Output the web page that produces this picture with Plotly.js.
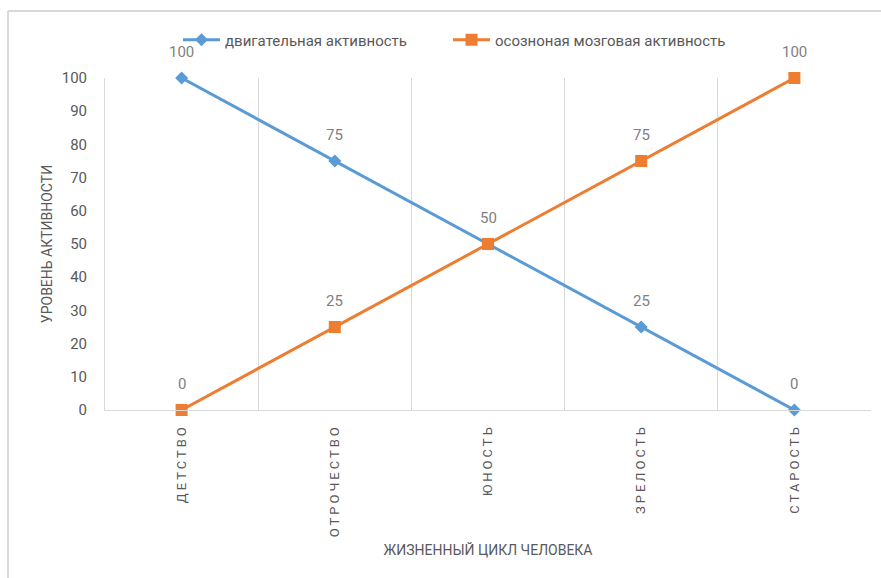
<!DOCTYPE html>
<html>
<head>
<meta charset="utf-8">
<script src="https://cdn.plot.ly/plotly-3.0.1.min.js"></script>
<style>
  html, body { margin: 0; padding: 0; background: #fff; }
  #chart { width: 881px; height: 578px; }
  .xtick text { letter-spacing: 3px; }
</style>
</head>
<body>
<div id="chart"></div>
<script>
const categories = ['ДЕТСТВО', 'ОТРОЧЕСТВО', 'ЮНОСТЬ', 'ЗРЕЛОСТЬ', 'СТАРОСТЬ'];
const motorActivity = [100, 75, 50, 25, 0];
const brainActivity = [0, 25, 50, 75, 100];
const seriesNames = ['двигательная активность', 'осозноная мозговая активность'];
const yTicks = [0, 10, 20, 30, 40, 50, 60, 70, 80, 90, 100];

const FONT = 'Roboto, "Noto Sans", "DejaVu Sans", sans-serif';
const GREY = '#595959';
const BLUE = '#5b9bd5';
const ORANGE = '#ed7d31';

const traces = [
  {
    x: categories, y: motorActivity, name: seriesNames[0],
    type: 'scatter', mode: 'lines+markers', cliponaxis: false,
    line: { color: BLUE, width: 3 },
    marker: { symbol: 'diamond', size: 10, color: BLUE },
    hoverinfo: 'x+y', legend: 'legend'
  },
  {
    x: categories, y: brainActivity, name: seriesNames[1],
    type: 'scatter', mode: 'lines+markers', cliponaxis: false,
    line: { color: ORANGE, width: 3 },
    marker: { symbol: 'square', size: 12, color: ORANGE },
    hoverinfo: 'x+y', legend: 'legend2'
  }
];

// data labels above points (only one label where the series coincide)
const annotations = [];
categories.forEach((c, i) => {
  annotations.push({ x: c, y: motorActivity[i], text: String(motorActivity[i]),
    showarrow: false, yshift: 26, font: { family: FONT, size: 15, color: '#7f7f7f' } });
  if (brainActivity[i] !== motorActivity[i]) {
    annotations.push({ x: c, y: brainActivity[i], text: String(brainActivity[i]),
      showarrow: false, yshift: 26, font: { family: FONT, size: 15, color: '#7f7f7f' } });
  }
});

const legendBase = {
  orientation: 'h', xref: 'container', yref: 'container',
  y: 1 - 40 / 578, xanchor: 'left', yanchor: 'middle',
  font: { family: FONT, size: 15, color: GREY },
  bgcolor: 'rgba(0,0,0,0)', itemwidth: 37
};

const layout = {
  width: 881, height: 578,
  margin: { l: 105, r: 10, t: 78, b: 168 },
  paper_bgcolor: '#ffffff', plot_bgcolor: '#ffffff',
  font: { family: FONT, size: 14, color: GREY },
  showlegend: true,
  legend: Object.assign({}, legendBase, { x: 178 / 881 }),
  legend2: Object.assign({}, legendBase, { x: 448 / 881 }),
  xaxis: {
    type: 'category', range: [-0.5, 4.5],
    tickson: 'boundaries', showgrid: true, gridcolor: '#d9d9d9', gridwidth: 1,
    showline: true, linecolor: '#d9d9d9', linewidth: 1,
    ticks: '', tickangle: -90, ticklabelstandoff: 8,
    tickfont: { family: FONT, size: 13, color: GREY },
    zeroline: false, fixedrange: true,
    title: { text: 'ЖИЗНЕННЫЙ ЦИКЛ ЧЕЛОВЕКА', standoff: 8,
      font: { family: FONT, size: 14, color: GREY } }
  },
  yaxis: {
    range: [0, 100], tickvals: yTicks, ticktext: yTicks.map(String),
    showgrid: false, zeroline: false,
    showline: true, linecolor: '#d9d9d9', linewidth: 1,
    ticks: '', ticklabelstandoff: 14,
    tickfont: { family: FONT, size: 15, color: GREY },
    fixedrange: true,
    title: { text: 'УРОВЕНЬ АКТИВНОСТИ', standoff: 5,
      font: { family: FONT, size: 14, color: GREY } }
  },
  shapes: [
    { type: 'line', xref: 'paper', yref: 'paper',
      x0: (8 - 105) / 766, x1: (8 - 105) / 766, y0: (410 - 11) / 332, y1: (410 - 600) / 332,
      line: { color: '#d9d9d9', width: 2 } },
    { type: 'line', xref: 'paper', yref: 'paper',
      x0: (8 - 105) / 766, x1: (900 - 105) / 766, y0: (410 - 11) / 332, y1: (410 - 11) / 332,
      line: { color: '#d9d9d9', width: 2 } }
  ],
  annotations: annotations
};

Plotly.newPlot('chart', traces, layout, { displayModeBar: false, staticPlot: true });
</script>
</body>
</html>
